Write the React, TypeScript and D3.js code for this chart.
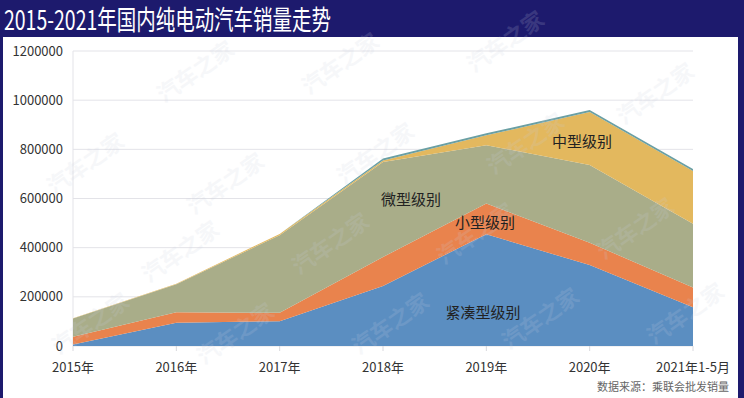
import * as d3 from 'd3'

const categories = ['2015年', '2016年', '2017年', '2018年', '2019年', '2020年', '2021年1-5月']
const compact = [6000, 95000, 101000, 244000, 455000, 329000, 158000]
const small = [32000, 42000, 34000, 118000, 125000, 91000, 80000]
const mini = [74000, 114000, 316000, 386000, 237000, 316000, 259000]
const mid = [1000, 2000, 5000, 7000, 40000, 216000, 215000]
const large = [0, 0, 0, 8000, 8000, 8000, 8000]
const yTicks = [0, 200000, 400000, 600000, 800000, 1000000, 1200000]

const seriesKeys = ['compact', 'small', 'mini', 'mid', 'large']
const seriesColors: Record<string, string> = {
  compact: '#5b8ec1',
  small: '#e9834d',
  mini: '#a9ad89',
  mid: '#e3b85e',
  large: '#6a9fa3',
}

const width = 744
const height = 398
const margin = { left: 73, right: 51, top: 51, bottom: 52 }

const watermarks = [
  [200, 78], [345, 70], [510, 48], [660, 100], [90, 170], [230, 190], [380, 160],
  [530, 150], [185, 258], [335, 250], [480, 240], [640, 235], [95, 330], [240, 340],
  [395, 330], [545, 325], [690, 320],
]

export default function App() {
  const rows = categories.map((c, i) => ({
    cat: c,
    compact: compact[i],
    small: small[i],
    mini: mini[i],
    mid: mid[i],
    large: large[i],
  }))

  const x = d3
    .scalePoint<string>()
    .domain(categories)
    .range([margin.left, width - margin.right])
  const y = d3
    .scaleLinear()
    .domain([0, 1200000])
    .range([height - margin.bottom, margin.top])

  const stacked = d3.stack<any>().keys(seriesKeys)(rows)
  const area = d3
    .area<any>()
    .x((d) => x(d.data.cat) as number)
    .y0((d) => y(d[0]))
    .y1((d) => y(d[1]))

  const font = '"Noto Sans CJK SC", "Noto Sans", sans-serif'
  const x0 = margin.left
  const x1 = width - margin.right

  return (
    <svg
      width={width}
      height={height}
      style={{ position: 'absolute', left: 0, top: 0, fontFamily: font }}
    >
      <rect x={0} y={0} width={width} height={height} fill="#1d1a6d" />
      <rect x={3} y={37} width={735} height={height - 37} fill="#ffffff" />
      <text
        x={4}
        y={30}
        fill="#ffffff"
        fontSize={27}
        textLength={327}
        lengthAdjust="spacingAndGlyphs"
      >
        2015-2021年国内纯电动汽车销量走势
      </text>

      {yTicks.map((t) => (
        <g key={t}>
          <line x1={x0} x2={x1} y1={y(t)} y2={y(t)} stroke="#e3e3e8" strokeWidth={1} />
          <text
            x={63}
            y={y(t)}
            dy="0.35em"
            textAnchor="end"
            fontSize={13}
            fill="#333"
          >
            {t}
          </text>
        </g>
      ))}
      <line x1={x0} x2={x0} y1={margin.top} y2={y(0)} stroke="#e3e3e8" />

      {stacked.map((s) => (
        <path key={s.key} d={area(s) || ''} fill={seriesColors[s.key]} />
      ))}

      {categories.map((c) => (
        <g key={c}>
          <line
            x1={x(c)}
            x2={x(c)}
            y1={y(0)}
            y2={y(0) + 5}
            stroke="#d8d8dd"
          />
          <text
            x={x(c)}
            y={372}
            textAnchor="middle"
            fontSize={13}
            fill="#333"
          >
            {c}
          </text>
        </g>
      ))}

      {watermarks.map(([wx, wy], i) => (
        <text
          key={i}
          x={wx}
          y={wy}
          transform={`rotate(-35 ${wx} ${wy})`}
          textAnchor="middle"
          fontSize={22}
          fontWeight={700}
          fill="#c9cfe0"
          opacity={0.16}
        >
          汽车之家
        </text>
      ))}

      <text x={582} y={147} textAnchor="middle" fontSize={15} fill="#222">
        中型级别
      </text>
      <text x={411} y={205} textAnchor="middle" fontSize={15} fill="#222">
        微型级别
      </text>
      <text x={485} y={228} textAnchor="middle" fontSize={15} fill="#222">
        小型级别
      </text>
      <text x={483} y={318} textAnchor="middle" fontSize={15} fill="#222">
        紧凑型级别
      </text>

      <text x={729} y={391} textAnchor="end" fontSize={11} fill="#666">
        数据来源：乘联会批发销量
      </text>
    </svg>
  )
}
